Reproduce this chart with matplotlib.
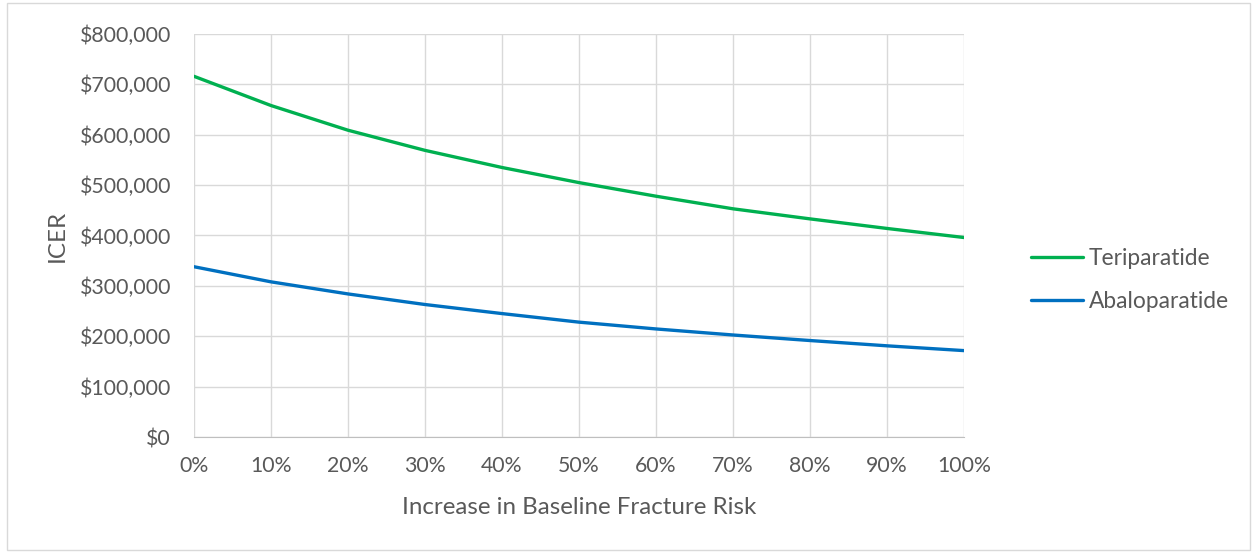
import matplotlib
matplotlib.use("Agg")
import matplotlib.pyplot as plt
from matplotlib.ticker import FuncFormatter
from matplotlib.patches import Rectangle

increase_pct = [0, 10, 20, 30, 40, 50, 60, 70, 80, 90, 100]
teriparatide = [716000, 658000, 609000, 569000, 535000, 505000, 478000, 453000, 433000, 414000, 396000]
abaloparatide = [338000, 308000, 284000, 263000, 245000, 228000, 214500, 202500, 191500, 181000, 171500]
y_ticks = [0, 100000, 200000, 300000, 400000, 500000, 600000, 700000, 800000]

plt.rcParams['font.family'] = ['Lato', 'DejaVu Sans']
text_color = '#595959'
grid_color = '#D9D9D9'

W, H = 1252, 552
fig = plt.figure(figsize=(W / 100, H / 100), dpi=100)
fig.patches.append(Rectangle((7 / W, 2 / H), (W - 9) / W, (H - 5) / H, transform=fig.transFigure,
                             fill=False, edgecolor='#D9D9D9', linewidth=1))

left, right, top, bottom = 194, 964, 34, 437
ax = fig.add_axes([left / W, 1 - bottom / H, (right - left) / W, (bottom - top) / H])

ax.plot(increase_pct, teriparatide, color='#00B050', linewidth=2.4, label='Teriparatide',
        solid_capstyle='round')
ax.plot(increase_pct, abaloparatide, color='#0070C0', linewidth=2.4, label='Abaloparatide',
        solid_capstyle='round')

ax.set_xlim(0, 100)
ax.set_ylim(0, 800000)
ax.set_xticks(increase_pct)
ax.set_yticks(y_ticks)
ax.xaxis.set_major_formatter(FuncFormatter(lambda v, p: f"{int(v)}%"))
ax.yaxis.set_major_formatter(FuncFormatter(lambda v, p: f"${int(v):,}"))
ax.grid(True, color=grid_color, linewidth=1)
ax.set_axisbelow(True)
for s in ['top', 'right']:
    ax.spines[s].set_visible(False)
ax.spines['left'].set_visible(False)
ax.spines['bottom'].set_color('#BFBFBF')
ax.tick_params(axis='both', length=0, colors=text_color, labelsize=15.3)
ax.tick_params(axis='x', pad=14)
ax.tick_params(axis='y', pad=16.5)

ax.set_xlabel('Increase in Baseline Fracture Risk', color=text_color, fontsize=17.4)
ax.xaxis.set_label_coords(0.5, -0.149)
ax.set_ylabel('ICER', color=text_color, fontsize=17.4)
ax.yaxis.set_label_coords(-0.164, 0.5)

leg = ax.legend(loc='center left', bbox_to_anchor=(1.087, 0.39), frameon=False,
                fontsize=16.4, handlelength=2.3, handletextpad=0.25, labelspacing=0.95,
                borderaxespad=0, borderpad=0)
for t in leg.get_texts():
    t.set_color(text_color)

fig.savefig('out.png', dpi=100)
